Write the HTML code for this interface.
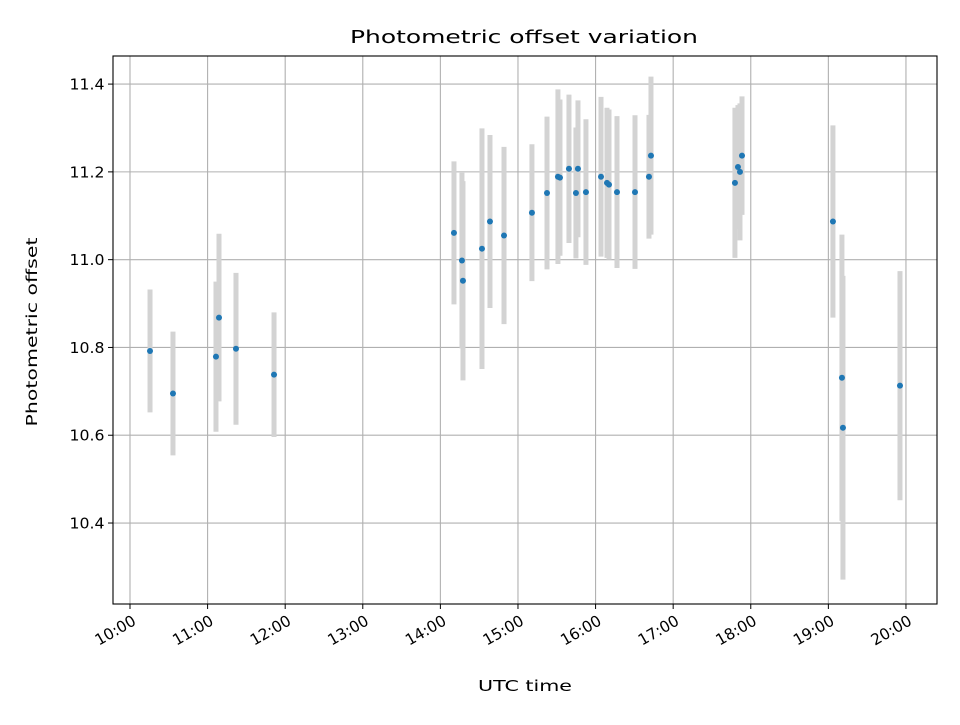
<!DOCTYPE html>
<html><head><meta charset="utf-8"><style>body{margin:0;background:#fff}svg text{font-family:"DejaVu Sans","Liberation Sans",sans-serif;fill:#000}</style></head>
<body>
<svg id="chart" width="960" height="720" xmlns="http://www.w3.org/2000/svg">
<rect width="960" height="720" fill="#fff"/>
<g id="grid"></g>
<g id="bars"></g>
<g id="pts"></g>
<rect x="113" y="56" width="824" height="548" fill="none" stroke="#000" stroke-width="1.1"/>
<g id="ticks"></g>
<text x="524" y="43" font-size="18" text-anchor="middle" textLength="348" lengthAdjust="spacingAndGlyphs">Photometric offset variation</text>
<text x="525" y="691" font-size="15.5" text-anchor="middle" textLength="94" lengthAdjust="spacingAndGlyphs">UTC time</text>
<text transform="translate(37,332) rotate(-90)" font-size="15.5" text-anchor="middle" textLength="189" lengthAdjust="spacingAndGlyphs">Photometric offset</text>
</svg>
<script>
const times=[10.258,10.554,11.108,11.147,11.366,11.856,14.175,14.278,14.291,14.536,14.639,14.820,15.180,15.374,15.515,15.541,15.657,15.747,15.773,15.876,16.070,16.147,16.173,16.276,16.508,16.688,16.714,17.796,17.835,17.861,17.887,19.059,19.175,19.188,19.923];
const values=[10.792,10.695,10.779,10.868,10.797,10.738,11.061,10.998,10.952,11.025,11.087,11.055,11.107,11.152,11.189,11.187,11.207,11.152,11.207,11.154,11.189,11.175,11.171,11.154,11.154,11.189,11.237,11.175,11.211,11.200,11.237,11.087,10.731,10.617,10.713];
const errors=[0.140,0.141,0.171,0.191,0.173,0.142,0.163,0.200,0.227,0.274,0.197,0.202,0.156,0.174,0.199,0.178,0.169,0.149,0.156,0.166,0.182,0.171,0.171,0.173,0.175,0.141,0.180,0.171,0.141,0.156,0.135,0.219,0.326,0.346,0.261];
const xTicks=[10,11,12,13,14,15,16,17,18,19,20];
const xTickLabels=["10:00","11:00","12:00","13:00","14:00","15:00","16:00","17:00","18:00","19:00","20:00"];
const yTicks=[10.4,10.6,10.8,11.0,11.2,11.4];
const yTickLabels=["10.4","10.6","10.8","11.0","11.2","11.4"];
const NS="http://www.w3.org/2000/svg";
const X0=113,X1=937,Y0=56,Y1=604,XMIN=9.781,XMAX=20.4,YMIN=10.2155,YMAX=11.464;
const sx=t=>X0+(t-XMIN)/(XMAX-XMIN)*(X1-X0);
const sy=v=>Y1-(v-YMIN)/(YMAX-YMIN)*(Y1-Y0);
function mk(tag,attrs,parent){const e=document.createElementNS(NS,tag);for(const k in attrs)e.setAttribute(k,attrs[k]);document.getElementById(parent).appendChild(e);return e;}
xTicks.forEach((t,i)=>{const x=sx(t);
 const g=mk('line',{x1:x,x2:x,y1:Y0,y2:Y1,stroke:'#b0b0b0','stroke-width':1.1},'grid');
 
 
 const tk=mk('line',{x1:x,x2:x,y1:Y1,y2:Y1+5,stroke:'#000'},'ticks');
 
 
 const ax=x+3, ay=Y1+21;
 const tx=mk('text',{x:ax,y:ay,'font-size':15.5,'text-anchor':'end',textLength:44,lengthAdjust:'spacingAndGlyphs',transform:`rotate(-30 ${ax} ${ay-8})`},'ticks');
 tx.textContent=xTickLabels[i];
 
 
});
yTicks.forEach((v,i)=>{const y=sy(v);
 const g=mk('line',{x1:X0,x2:X1,y1:y,y2:y,stroke:'#b0b0b0','stroke-width':1.1},'grid');
 
 
 const tk=mk('line',{x1:X0-5,x2:X0,y1:y,y2:y,stroke:'#000'},'ticks');
 
 
 const tx=mk('text',{x:X0-26,y:y+5.5,'font-size':15.5,'text-anchor':'middle',textLength:35,lengthAdjust:'spacingAndGlyphs'},'ticks');
 tx.textContent=yTickLabels[i];
 
 
});
times.forEach((t,i)=>{const x=sx(t);
 const b=mk('line',{x1:x,x2:x,y1:sy(values[i]+errors[i]),y2:sy(values[i]-errors[i]),stroke:'#d3d3d3','stroke-width':5},'bars');
 
 
});
times.forEach((t,i)=>{
 const c=mk('circle',{cx:sx(t),cy:sy(values[i]),r:3,fill:'#1f77b4'},'pts');
 
 
});
</script>
</body></html>
